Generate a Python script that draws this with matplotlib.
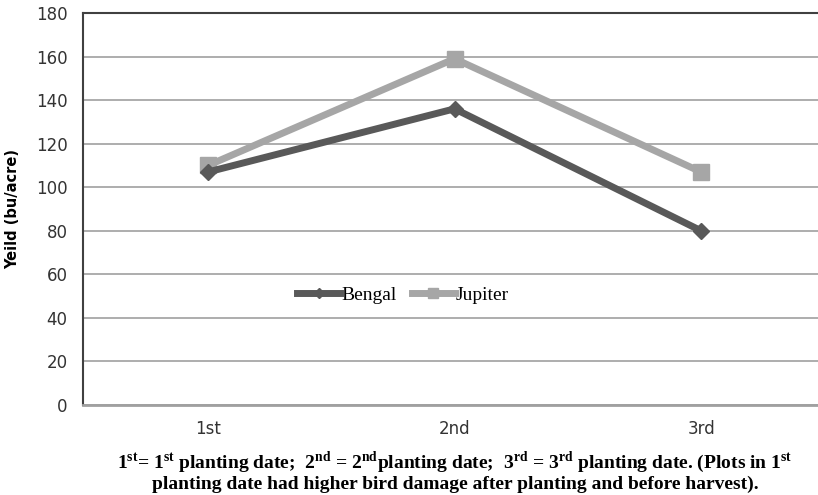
import matplotlib
matplotlib.use("Agg")
import matplotlib.pyplot as plt

categories = ["1st", "2nd", "3rd"]
bengal = [107, 136, 80]
jupiter = [110, 159, 107]
y_ticks = [0, 20, 40, 60, 80, 100, 120, 140, 160, 180]

plt.rcParams['mathtext.fontset'] = 'custom'
plt.rcParams['mathtext.bf'] = 'Liberation Serif:bold'
plt.rcParams['mathtext.rm'] = 'Liberation Serif:bold'

fig = plt.figure(figsize=(8.18, 4.95), dpi=100)
ax = fig.add_axes([83/818, 90/495, 1 - 83/818, 392/495])

x = list(range(len(categories)))
ax.plot(x, bengal, color='#595959', lw=5, marker='D', ms=8, label='Bengal', zorder=3)
ax.plot(x, jupiter, color='#a6a6a6', lw=5, marker='s', ms=11, label='Jupiter', zorder=2)

ax.set_xlim(-0.507, 2.474)
ax.set_ylim(0, 180)
ax.set_yticks(y_ticks)
ax.set_xticks(x)
ax.set_xticklabels(categories)
ax.tick_params(axis='both', length=0, labelsize=12, colors='#333333')
ax.tick_params(axis='y', pad=11)
ax.tick_params(axis='x', pad=11)
ax.grid(axis='y', color='#a0a0a0', lw=1.2)
ax.set_axisbelow(True)
ax.spines['right'].set_visible(False)
ax.spines['top'].set_color('#404040')
ax.spines['top'].set_linewidth(1.5)
ax.spines['left'].set_color('#404040')
ax.spines['left'].set_linewidth(1.5)
ax.spines['bottom'].set_color('#a0a0a0')
ax.spines['bottom'].set_linewidth(2)

ax.set_ylabel('Yeild (bu/acre)', fontsize=10.5, fontweight='bold')
ax.yaxis.set_label_coords(-(83 - 20) / 735, 0.5)

leg = ax.legend(loc='center', bbox_to_anchor=((403-83)/735, (405-295)/392),
                ncol=2, frameon=False, handlelength=2.2, columnspacing=0.8,
                handletextpad=0.05, markerscale=0.7,
                prop={'family': 'Liberation Serif', 'size': 14})

line1 = r"1$^{\mathbf{st}}$= 1$^{\mathbf{st}}$ planting date;  2$^{\mathbf{nd}}$ = 2$^{\mathbf{nd}}$planting date;  3$^{\mathbf{rd}}$ = 3$^{\mathbf{rd}}$ planting date. (Plots in 1$^{\mathbf{st}}$"
line2 = "planting date had higher bird damage after planting and before harvest)."
cx = 455/818
fig.text(cx, 1 - 462/495, line1, ha='center', va='center', family='Liberation Serif',
         fontweight='bold', fontsize=14)
fig.text(cx, 1 - 484/495, line2, ha='center', va='center', family='Liberation Serif',
         fontweight='bold', fontsize=14)

fig.savefig('out.png', dpi=100)
